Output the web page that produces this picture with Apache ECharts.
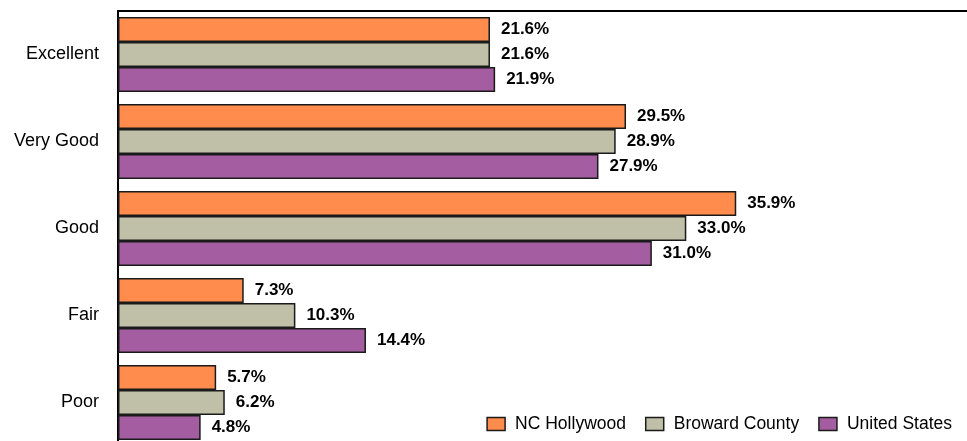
<!DOCTYPE html>
<html>
<head>
<meta charset="utf-8">
<script src="https://cdn.jsdelivr.net/npm/echarts@6/dist/echarts.min.js"></script>
<style>
  html, body { margin: 0; padding: 0; background: #fff; overflow: hidden; }
  #chart { width: 967px; height: 446px; }
</style>
</head>
<body>
<div id="chart"></div>
<script>
const categories = ["Excellent", "Very Good", "Good", "Fair", "Poor"];
const ncHollywood = [21.6, 29.5, 35.9, 7.3, 5.7];
const browardCounty = [21.6, 28.9, 33.0, 10.3, 6.2];
const unitedStates = [21.9, 27.9, 31.0, 14.4, 4.8];
const seriesNames = ["NC Hollywood", "Broward County", "United States"];
const colors = ["#FF8C4C", "#C0C0A8", "#A45DA0"];

let myChart = echarts.init(document.getElementById("chart"));

const labelStyle = {
  show: true,
  position: "right",
  distance: 11,
  formatter: (p) => p.value.toFixed(1) + "%",
  fontFamily: "'Liberation Sans', Arial, sans-serif",
  fontWeight: "bold",
  fontSize: 17,
  color: "#000",
};

const makeSeries = (name, data, color) => ({
  name: name,
  type: "bar",
  data: data,
  barGap: "0%",
  barCategoryGap: "14%",
  itemStyle: {
    color: color,
    borderColor: "#1a1a1a",
    borderWidth: 1.5,
  },
  label: labelStyle,
});

const options = {
  animation: false,
  grid: {
    left: 118,
    right: 0,
    top: 11,
    bottom: 0,
    containLabel: false,
  },
  legend: {
    right: 10,
    top: 410,
    itemWidth: 18,
    itemHeight: 13,
    itemGap: 19,
    icon: "rect",
    textStyle: {
      fontFamily: "'Liberation Sans', Arial, sans-serif",
      fontSize: 17.5,
      color: "#000",
      padding: [0, 0, 0, 5],
    },
    itemStyle: {
      borderColor: "#1a1a1a",
      borderWidth: 1.5,
    },
    data: seriesNames,
  },
  xAxis: {
    type: "value",
    position: "top",
    min: 0,
    max: 49.3,
    axisLine: { show: true, lineStyle: { color: "#000", width: 2 } },
    axisTick: { show: false },
    axisLabel: { show: false },
    splitLine: { show: false },
  },
  yAxis: {
    type: "category",
    data: categories,
    inverse: true,
    axisLine: { show: true, lineStyle: { color: "#000", width: 2 } },
    axisTick: { show: false },
    axisLabel: {
      margin: 19,
      fontFamily: "'Liberation Sans', Arial, sans-serif",
      fontSize: 18,
      color: "#000",
    },
  },
  series: [
    makeSeries(seriesNames[0], ncHollywood, colors[0]),
    makeSeries(seriesNames[1], browardCounty, colors[1]),
    makeSeries(seriesNames[2], unitedStates, colors[2]),
  ],
};
myChart.setOption(options);
</script>
</body>
</html>
